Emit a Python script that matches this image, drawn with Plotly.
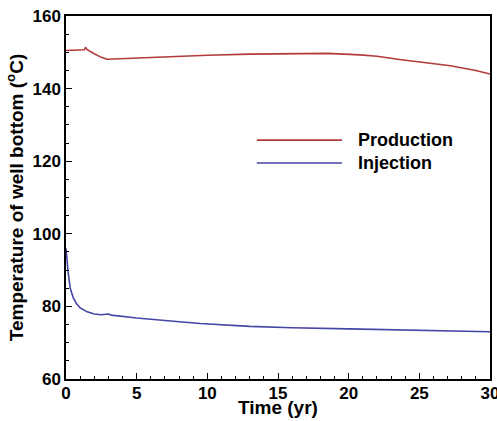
import plotly.graph_objects as go

# Production well bottom temperature (°C) vs time (yr)
prod_time = [0, 0.5, 1.0, 1.3, 1.38, 1.5, 2.0, 2.5, 2.9, 3.5, 5, 8, 10, 13, 16, 18.5, 20.8, 22, 23.6, 25, 27.2, 29, 30]
prod_temp = [150.5, 150.6, 150.6, 150.7, 151.4, 150.7, 149.6, 148.6, 148.1, 148.2, 148.4, 148.9, 149.2, 149.5, 149.7, 149.7, 149.3, 148.9, 148.0, 147.3, 146.3, 145.0, 144.0]

# Injection well bottom temperature (°C) vs time (yr)
inj_time = [0, 0.05, 0.15, 0.3, 0.5, 0.75, 1.0, 1.5, 2.0, 2.5, 2.9, 3.0, 3.2, 4, 5, 7, 9.5, 13, 16, 20, 24, 27, 30]
inj_temp = [96, 93.5, 89.5, 85, 82.5, 80.7, 79.6, 78.5, 77.9, 77.7, 77.8, 77.9, 77.6, 77.2, 76.8, 76.1, 75.3, 74.5, 74.1, 73.8, 73.5, 73.2, 73.0]

series_names = ["Production", "Injection"]
series_colors = ["#b23a3a", "#4646a6"]

x_ticks = [0, 5, 10, 15, 20, 25, 30]
y_ticks = [60, 80, 100, 120, 140, 160]

font_family = "Liberation Sans, Arial, sans-serif"

fig = go.Figure()
for t, v, name, color in zip([prod_time, inj_time], [prod_temp, inj_temp], series_names, series_colors):
    fig.add_trace(go.Scatter(x=t, y=v, mode="lines", name=name,
                             line=dict(color=color, width=1.6), showlegend=False))

# Legend drawn as line samples plus bold labels
legend_y = [0.658, 0.595]
for name, color, ly in zip(series_names, series_colors, legend_y):
    fig.add_shape(type="line", xref="paper", yref="paper", x0=0.450, x1=0.651, y0=ly, y1=ly,
                  line=dict(color=color, width=1.6))
    fig.add_annotation(xref="paper", yref="paper", x=0.684, y=ly, xanchor="left", yanchor="middle",
                       text="<b>%s</b>" % name, showarrow=False,
                       font=dict(family=font_family, size=18, color="black"))

# x-axis title placed just under the tick labels
fig.add_annotation(xref="paper", yref="paper", x=0.5, y=0, xanchor="center", yanchor="top",
                   yshift=-16, text="<b>Time (yr)</b>", showarrow=False,
                   font=dict(family=font_family, size=19, color="black"))

axis_common = dict(
    showline=True, linecolor="black", linewidth=1.5, mirror=True,
    ticks="inside", ticklen=6, tickwidth=1.3, tickcolor="black",
    showgrid=False, zeroline=False, ticklabeloverflow="allow",
    tickfont=dict(family=font_family, size=17, color="black", weight="bold"),
)

fig.update_xaxes(range=[0, 30], tickvals=x_ticks, ticktext=[str(v) for v in x_ticks],
                 minor=dict(ticks="inside", dtick=1, ticklen=3, tickcolor="black", tickwidth=1),
                 ticklabelstandoff=-2,
                 **axis_common)
fig.update_yaxes(range=[60, 160], tickvals=y_ticks, ticktext=[str(v) for v in y_ticks],
                 minor=dict(ticks="inside", dtick=5, tick0=60, ticklen=3, tickcolor="black", tickwidth=1),
                 title=dict(text="<b>Temperature of well bottom (<sup>o</sup>C)</b>", standoff=4,
                            font=dict(family=font_family, size=19, color="black")),
                 **axis_common)

fig.update_layout(
    width=497, height=421,
    margin=dict(l=66, r=7, t=16, b=42, autoexpand=False),
    paper_bgcolor="white", plot_bgcolor="white",
)

fig.write_html("out.html")
